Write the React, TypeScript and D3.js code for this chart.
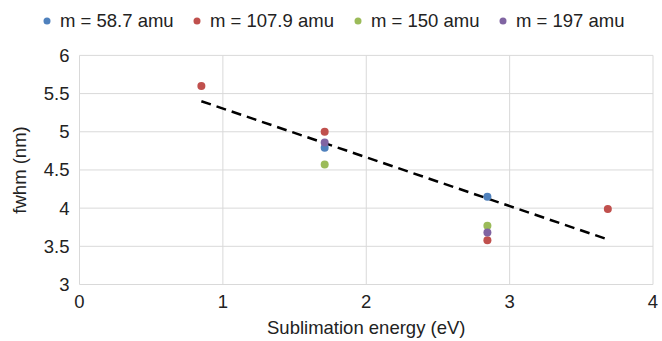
import React from 'react'
import * as d3 from 'd3'

const seriesNames = ['m = 58.7 amu', 'm = 107.9 amu', 'm = 150 amu', 'm = 197 amu']
const seriesColors = ['#4F81BD', '#C0504D', '#9BBB59', '#8064A2']
// sublimation energy (eV) per point, per series
const energy = [
    [1.71, 2.845],
    [0.85, 1.71, 2.845, 3.685],
    [1.71, 2.845],
    [1.71, 2.845],
]
// fwhm (nm) per point, per series
const fwhm = [
    [4.79, 4.15],
    [5.6, 5.0, 3.58, 3.99],
    [4.57, 3.77],
    [4.86, 3.68],
]
// linear trend line ends
const trendX = [0.85, 3.685]
const trendY = [5.4, 3.59]
const xTicks = [0, 1, 2, 3, 4]
const yTicks = [3, 3.5, 4, 4.5, 5, 5.5, 6]

const W = 662
const H = 341
const margin = { left: 79.5, right: 9, top: 55.4, bottom: 56.5 }
const font = '"Liberation Sans", Arial, sans-serif'
const fs = 18.5

export default function App() {
    const x = d3.scaleLinear().domain([0, 4]).range([margin.left, W - margin.right])
    const y = d3.scaleLinear().domain([3, 6]).range([H - margin.bottom, margin.top])
    const line = d3
        .line<number>()
        .x((d) => x(d))
        .y((d, i) => y(trendY[i]))

    const legendX = [47, 197, 358, 503]

    return (
        <svg width={W} height={H} style={{ position: 'absolute', left: 0, top: 0, background: 'white' }}>
            {/* gridlines */}
            {yTicks.map((t) => (
                <line key={'gy' + t} x1={x(0)} x2={x(4)} y1={y(t)} y2={y(t)} stroke="#d9d9d9" strokeWidth={1} />
            ))}
            {xTicks.map((t) => (
                <line key={'gx' + t} x1={x(t)} x2={x(t)} y1={y(3)} y2={y(6)} stroke="#d9d9d9" strokeWidth={1} />
            ))}
            {/* tick labels */}
            {yTicks.map((t) => (
                <text key={'ly' + t} x={x(0) - 10} y={y(t)} dy="0.35em" textAnchor="end" fontSize={fs} fontFamily={font} fill="#222">
                    {d3.format('')(t)}
                </text>
            ))}
            {xTicks.map((t) => (
                <text key={'lx' + t} x={x(t)} y={y(3) + 23} textAnchor="middle" fontSize={fs} fontFamily={font} fill="#222">
                    {t}
                </text>
            ))}
            {/* axis titles */}
            <text x={(x(0) + x(4)) / 2} y={334} textAnchor="middle" fontSize={fs} fontFamily={font} fill="#222">
                Sublimation energy (eV)
            </text>
            <text
                transform={`translate(26, ${(y(3) + y(6)) / 2}) rotate(-90)`}
                textAnchor="middle"
                fontSize={fs}
                fontFamily={font}
                fill="#222"
            >
                fwhm (nm)
            </text>
            {/* trend line */}
            <path d={line(trendX) || ''} fill="none" stroke="black" strokeWidth={2.5} strokeDasharray="10,6" />
            {/* points */}
            {energy.map((xs, s) =>
                xs.map((e, i) => (
                    <circle key={s + '-' + i} cx={x(e)} cy={y(fwhm[s][i])} r={4} fill={seriesColors[s]} />
                ))
            )}
            {/* legend */}
            {seriesNames.map((n, i) => (
                <g key={n}>
                    <circle cx={legendX[i]} cy={21} r={3.5} fill={seriesColors[i]} />
                    <text x={legendX[i] + 13} y={21} dy="0.35em" fontSize={fs} fontFamily={font} fill="#222">
                        {n}
                    </text>
                </g>
            ))}
        </svg>
    )
}
